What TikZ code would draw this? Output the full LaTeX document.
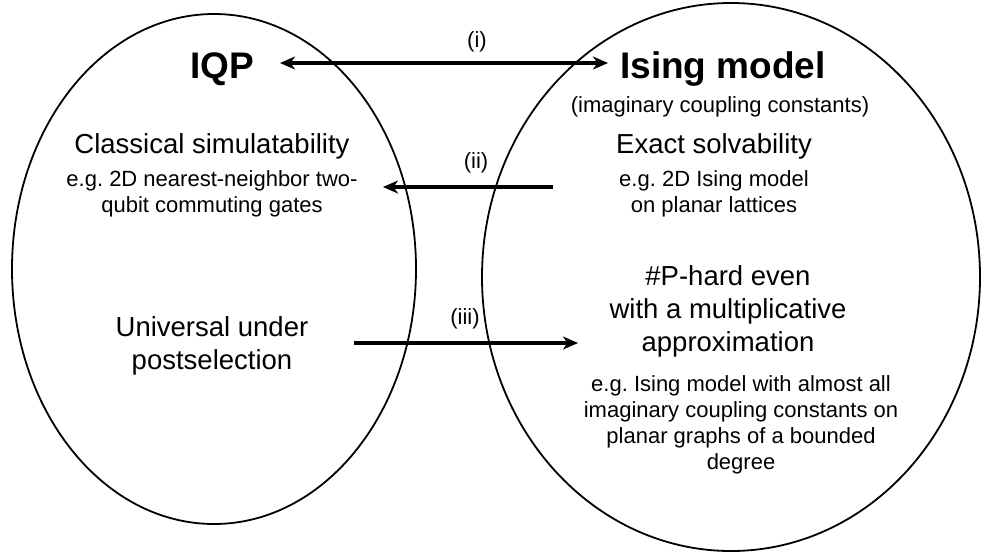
\documentclass[tikz,border=0pt]{standalone}
\usepackage{fontspec}
\setmainfont{Liberation Sans}
\usetikzlibrary{arrows.meta}
\frenchspacing
\begin{document}
\begin{tikzpicture}[x=1pt,y=-1pt,
  ell/.style={draw, line width=1.8pt},
  conn/.style={line width=3.2pt, -{Stealth[length=15pt,width=13pt,inset=4.5pt]}},
  conn2/.style={line width=3.2pt, {Stealth[length=15pt,width=13pt,inset=4.5pt]}-{Stealth[length=15pt,width=13pt,inset=4.5pt]}},
  title/.style={font=\fontsize{37}{44}\selectfont\bfseries, inner sep=0pt},
  big/.style={font=\fontsize{27.5}{33}\selectfont, align=center, inner sep=0pt},
  small/.style={font=\fontsize{22}{26}\selectfont, align=center, inner sep=0pt},
  lbl/.style={font=\fontsize{22}{26}\selectfont, inner sep=0pt}]
\useasboundingbox (0,0) rectangle (981,552);
\fill[white] (0,0) rectangle (981,552);
% sets
\draw[ell] (214,269) ellipse [x radius=202, y radius=255];
\draw[ell] (731,277) ellipse [x radius=249, y radius=274];
% texts (anchor=base is the baseline of the last line)
\node[title, anchor=base] (iqp) at (222,78) {IQP};
\node[title, anchor=base] (ising) at (723,78) {Ising model};
\node[small, anchor=base] (imag) at (720,112) {(imaginary coupling constants)};
\node[big, anchor=base] (cls) at (212,153) {Classical simulatability};
\node[small, anchor=base] (clsx) at (212,212) {e.g. 2D nearest-neighbor two-\\qubit commuting gates};
\node[big, anchor=base] (exact) at (714,153) {Exact solvability};
\node[small, anchor=base] (exactx) at (714,212) {e.g. 2D Ising model\\on planar lattices};
\node[big, anchor=base] (univ) at (212,369) {Universal under\\postselection};
\node[big, anchor=base] (hard) at (728,351) {\#P-hard even\\with a multiplicative\\approximation};
\node[small, anchor=base] (hardx) at (741,469) {e.g. Ising model with almost all\\imaginary coupling constants on\\planar graphs of a bounded\\degree};
% labels
\node[lbl] (li) at (477,42) {(i)};
\node[lbl] (lii) at (476,163) {(ii)};
\node[lbl] (liii) at (465,319) {(iii)};
% connector ends
\coordinate (i-l) at (280,63);
\coordinate (i-r) at (608,63);
\coordinate (ii-s) at (553,187);
\coordinate (ii-e) at (383,187);
\coordinate (iii-s) at (354,343);
\coordinate (iii-e) at (578,343);
% connectors
\draw[conn2] (i-l) -- (i-r);
\draw[conn] (ii-s) -- (ii-e);
\draw[conn] (iii-s) -- (iii-e);
\end{tikzpicture}
\end{document}
